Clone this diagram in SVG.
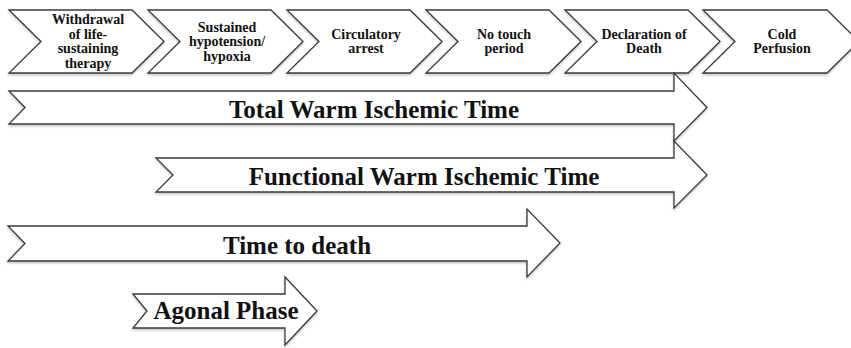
<svg xmlns="http://www.w3.org/2000/svg" width="851" height="348" viewBox="0 0 851 348">
<defs>
<filter id="sh" x="-5%" y="-20%" width="110%" height="150%">
<feDropShadow dx="0" dy="1.5" stdDeviation="1.2" flood-color="#000" flood-opacity="0.25"/>
</filter>
<style>
.shape{fill:#fff;stroke:#3a3a3a;stroke-width:1.3;stroke-linejoin:miter;filter:url(#sh)}
.st{font-family:"Liberation Serif","Times New Roman",serif;font-weight:bold;font-size:14px;fill:#111;text-anchor:middle}
.bt{font-family:"Liberation Serif","Times New Roman",serif;font-weight:bold;font-size:25px;fill:#111;text-anchor:middle}
</style>
</defs>
<rect width="851" height="348" fill="#fff"/>
<g id="step1">
<polygon class="shape" points="9,10 132,10 164,41.5 132,73 9,73 41,41.5"/>
<text class="st" x="88" y="24.3">Withdrawal</text>
<text class="st" x="88" y="38.8">of life-</text>
<text class="st" x="88" y="53.3">sustaining</text>
<text class="st" x="88" y="67.8">therapy</text>
</g>
<g id="step2">
<polygon class="shape" points="148,10 271,10 303,41.5 271,73 148,73 180,41.5"/>
<text class="st" x="227" y="31.5">Sustained</text>
<text class="st" x="227" y="46">hypotension/</text>
<text class="st" x="227" y="60.5">hypoxia</text>
</g>
<g id="step3">
<polygon class="shape" points="287,10 410,10 442,41.5 410,73 287,73 319,41.5"/>
<text class="st" x="366" y="38.8">Circulatory</text>
<text class="st" x="366" y="53.3">arrest</text>
</g>
<g id="step4">
<polygon class="shape" points="426,10 549,10 581,41.5 549,73 426,73 458,41.5"/>
<text class="st" x="504" y="38.8">No touch</text>
<text class="st" x="504" y="53.3">period</text>
</g>
<g id="step5">
<polygon class="shape" points="565,10 688,10 720,41.5 688,73 565,73 597,41.5"/>
<text class="st" x="644" y="38.8">Declaration of</text>
<text class="st" x="644" y="53.3">Death</text>
</g>
<g id="step6">
<polygon class="shape" points="703,10 827,10 859,41.5 827,73 703,73 735,41.5"/>
<text class="st" x="782" y="38.8">Cold</text>
<text class="st" x="782" y="53.3">Perfusion</text>
</g>
<g id="total-warm">
<polygon class="shape" points="9,91 674,91 674,73 707,107.5 674,141 674,124 9,124 25,107.5"/>
<text class="bt" x="374" y="118">Total Warm Ischemic Time</text>
</g>
<g id="functional-warm">
<polygon class="shape" points="156,158 674,158 674,141 707,175 674,208 674,192 156,192 173,175"/>
<text class="bt" x="424" y="185">Functional Warm Ischemic Time</text>
</g>
<g id="time-to-death">
<polygon class="shape" points="8,226 527,226 527,209 560,243 527,277 527,261 8,261 25,243.5"/>
<text class="bt" x="297" y="254">Time to death</text>
</g>
<g id="agonal">
<polygon class="shape" points="133,294 285,294 285,277 317,311 285,345 285,328 133,328 147,311"/>
<text class="bt" x="226" y="319">Agonal Phase</text>
</g>
<g id="connectors"></g>
</svg>
